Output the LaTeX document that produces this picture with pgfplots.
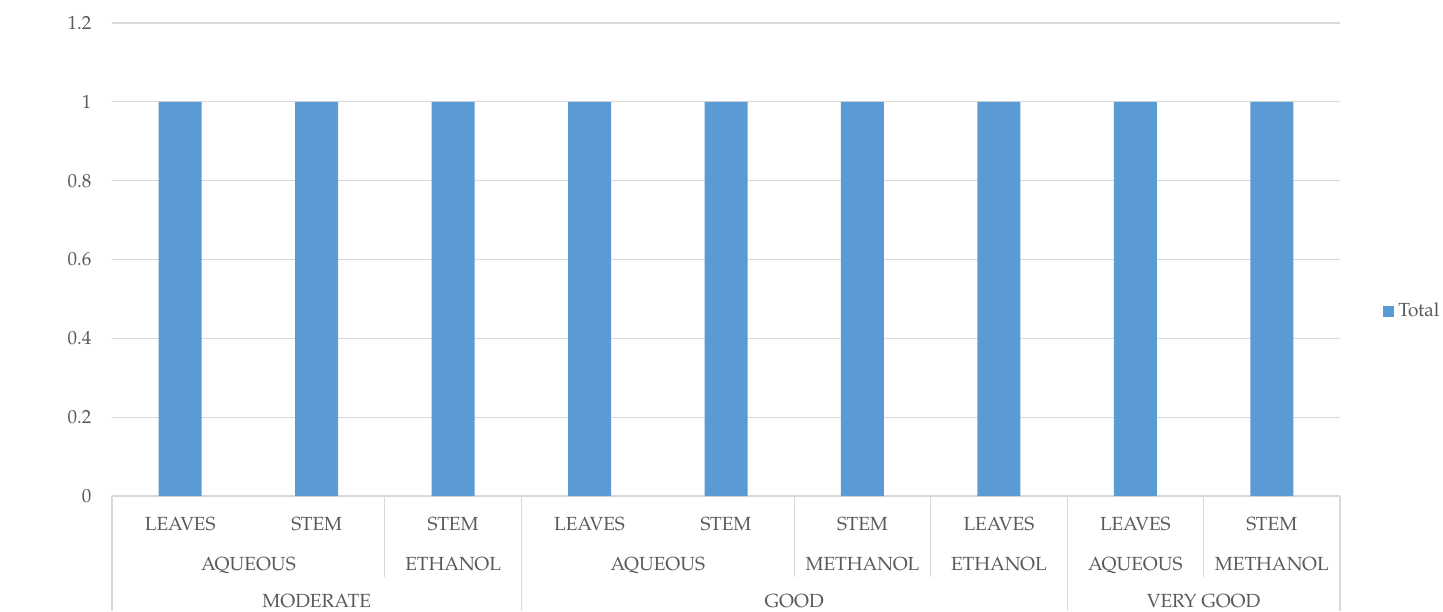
\documentclass[border=0pt]{standalone}
\usepackage{fontspec}
\setmainfont{TeX Gyre Pagella}
\usepackage{pgfplots}
\pgfplotsset{compat=1.18}
\definecolor{barblue}{HTML}{5B9BD5}
\definecolor{txt}{HTML}{595959}
\definecolor{gridc}{HTML}{D9D9D9}
\tikzset{
  lbl/.style={text=txt, anchor=base, inner sep=0pt},
  sep/.style={gridc, line width=0.6pt},
}
\begin{document}
\begin{tikzpicture}[font=\fontsize{9.5}{11}\selectfont]
\begin{axis}[
  scale only axis, width=614pt, height=236.5pt,
  at={(0,0)}, anchor=south west,
  xmin=-0.5, xmax=8.5, ymin=0, ymax=1.2,
  ytick={0,0.2,0.4,0.6,0.8,1,1.2},
  xtick=\empty,
  axis line style={draw=none},
  major tick length=0pt,
  ymajorgrids, grid style={gridc, line width=0.6pt},
  /pgf/number format/assume math mode=true,
  yticklabel style={text=txt, xshift=-6.8pt},
  ybar, bar width=21.5pt,
  clip=false,
  legend style={draw=none, fill=none, at={(1.035,0.39)}, anchor=west, font=\fontsize{9.5}{11}\selectfont, text=txt, inner sep=0pt},
  legend image code/.code={\fill[barblue] (0pt,-2.75pt) rectangle (5.5pt,2.75pt);},
]
\addplot[fill=barblue, draw=none] coordinates {(0,1) (1,1) (2,1) (3,1) (4,1) (5,1) (6,1) (7,1) (8,1)};
\addlegendentry{Total}
% separators
\draw[sep] (axis cs:-0.5,0) -- ++(0pt,-57.5pt);
\draw[sep] (axis cs:2.5,0) -- ++(0pt,-57.5pt);
\draw[sep] (axis cs:6.5,0) -- ++(0pt,-57.5pt);
\draw[sep] (axis cs:8.5,0) -- ++(0pt,-57.5pt);
\draw[sep] (axis cs:1.5,0) -- ++(0pt,-40.5pt);
\draw[sep] (axis cs:4.5,0) -- ++(0pt,-40.5pt);
\draw[sep] (axis cs:5.5,0) -- ++(0pt,-40.5pt);
\draw[sep] (axis cs:7.5,0) -- ++(0pt,-40.5pt);
% level 1
\node[lbl] at ([yshift=-17pt]axis cs:0,0) {LEAVES};
\node[lbl] at ([yshift=-17pt]axis cs:1,0) {STEM};
\node[lbl] at ([yshift=-17pt]axis cs:2,0) {STEM};
\node[lbl] at ([yshift=-17pt]axis cs:3,0) {LEAVES};
\node[lbl] at ([yshift=-17pt]axis cs:4,0) {STEM};
\node[lbl] at ([yshift=-17pt]axis cs:5,0) {STEM};
\node[lbl] at ([yshift=-17pt]axis cs:6,0) {LEAVES};
\node[lbl] at ([yshift=-17pt]axis cs:7,0) {LEAVES};
\node[lbl] at ([yshift=-17pt]axis cs:8,0) {STEM};
% level 2
\node[lbl] at ([yshift=-37pt]axis cs:0.5,0) {AQUEOUS};
\node[lbl] at ([yshift=-37pt]axis cs:2,0) {ETHANOL};
\node[lbl] at ([yshift=-37pt]axis cs:3.5,0) {AQUEOUS};
\node[lbl] at ([yshift=-37pt]axis cs:5,0) {METHANOL};
\node[lbl] at ([yshift=-37pt]axis cs:6,0) {ETHANOL};
\node[lbl] at ([yshift=-37pt]axis cs:7,0) {AQUEOUS};
\node[lbl] at ([yshift=-37pt]axis cs:8,0) {METHANOL};
% level 3
\node[lbl] at ([yshift=-55.8pt]axis cs:1,0) {MODERATE};
\node[lbl] at ([yshift=-55.8pt]axis cs:4.5,0) {GOOD};
\node[lbl] at ([yshift=-55.8pt]axis cs:7.5,0) {VERY GOOD};
\end{axis}
\pgfresetboundingbox
\path (-56pt,-57.5pt) rectangle (665.5pt,248pt);
\end{tikzpicture}
\end{document}
